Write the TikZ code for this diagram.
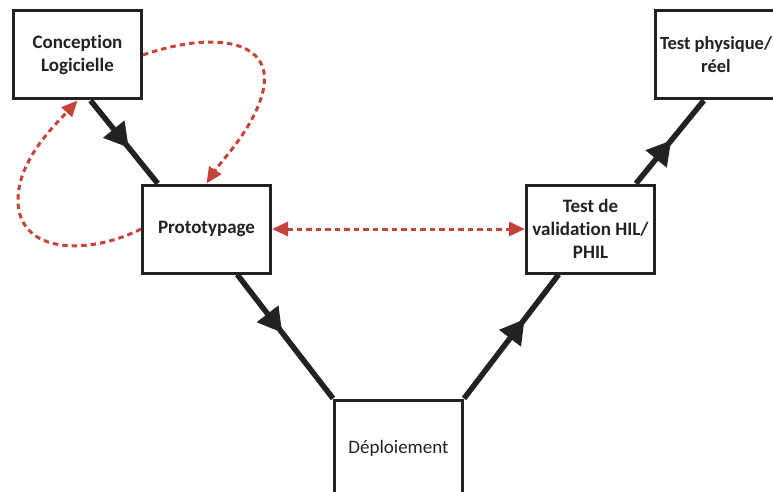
\documentclass[tikz,border=0pt]{standalone}
\usepackage{fontspec}
\setmainfont{Carlito}[Ligatures=NoCommon]
\usetikzlibrary{arrows.meta,decorations.markings}
\definecolor{ink}{HTML}{222222}
\definecolor{loop}{HTML}{C4443A}
\tikzset{
  stage/.style={draw=ink,line width=3pt,fill=white,align=center,text=ink,
    minimum width=128pt,minimum height=88pt,inner sep=4pt,
    font=\fontsize{19}{23}\selectfont\bfseries},
  vline/.style={draw=ink,line width=5.5pt,postaction={decorate,decoration={markings,
    mark=at position #1 with {\arrow{Triangle[length=24pt,width=26pt]}}}}},
  redloop/.style={draw=loop,line width=3pt,dash pattern=on 5.5pt off 4pt,
    -{Triangle[length=16pt,width=14pt]}}
}
\begin{document}
\begin{tikzpicture}[x=1pt,y=-1pt]
  \useasboundingbox (0,0) rectangle (773,492);
  \clip (0,0) rectangle (773,492);
  % V-cycle steps
  \node[stage] (con) at (77.5,55) {Conception\\Logicielle};
  \node[stage] (proto) at (206.5,229) {Prototypage};
  \node[stage] (dep) at (398.5,448) [minimum height=96pt,font=\fontsize{19}{23}\selectfont] {D\'eploiement};
  \node[stage] (valid) at (590.5,229) {Test de\\validation HIL/\\PHIL};
  \node[stage] (phys) at (716,55) [minimum width=122pt,font=\fontsize{18.5}{23}\selectfont\bfseries] {Test physique/\\r\'eel};
  % black links
  \draw[vline=0.57] (con.-74) -- (proto.137);
  \draw[vline=0.47] (proto.-56) -- (dep.north west);
  \draw[vline=0.64] (dep.north east) -- (valid.-125);
  \draw[vline=0.52] (valid.45) -- (phys.-105);
  % red loops
  \draw[redloop] (con.east) .. controls (215,30) and (278,40) .. (262,95)
    .. controls (252,130) and (222,160) .. (proto.north);
  \draw[redloop] (proto.west) .. controls (90,255) and (18,255) .. (18,200)
    .. controls (18,160) and (55,125) .. (con.south);
  \draw[redloop,{Triangle[length=16pt,width=14pt]}-{Triangle[length=16pt,width=14pt]}]
    (proto.east) -- (valid.west);
\end{tikzpicture}
\end{document}
